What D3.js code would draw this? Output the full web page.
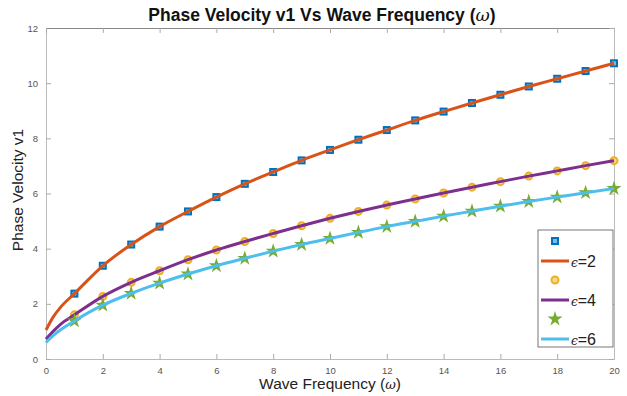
<!DOCTYPE html>
<html>
<head>
<meta charset="utf-8">
<script src="https://d3js.org/d3.v7.min.js"></script>
<style>
  body { margin: 0; background: #fff; }
  text { font-family: "Liberation Sans", Arial, sans-serif; }
</style>
</head>
<body>
<div id="chart"></div>
<script>
// marker points (integer frequencies)
const omega = [1,2,3,4,5,6,7,8,9,10,11,12,13,14,15,16,17,18,19,20];
const eps2 = [2.37,3.38,4.15,4.8,5.35,5.87,6.35,6.78,7.2,7.58,7.95,8.3,8.65,8.97,9.28,9.58,9.88,10.16,10.44,10.72];
const eps4 = [1.6,2.27,2.78,3.2,3.6,3.95,4.26,4.55,4.83,5.1,5.35,5.58,5.8,6.02,6.23,6.43,6.63,6.82,7.01,7.19];
const eps6 = [1.38,1.95,2.38,2.75,3.08,3.38,3.65,3.91,4.15,4.37,4.59,4.8,4.99,5.18,5.36,5.54,5.71,5.87,6.03,6.18];
// extra points near zero for the continuous curves
const omegaLow = [0, 0.25, 0.5];
const eps2Low = [1.05, 1.52, 1.86];
const eps4Low = [0.72, 1.0, 1.25];
const eps6Low = [0.6, 0.85, 1.05];

const xTicks = d3.range(0, 21, 2);
const yTicks = d3.range(0, 13, 2);

const W = 627, H = 396;
const margin = {top: 28, right: 13, bottom: 37, left: 46};
const width = W - margin.left - margin.right,
      height = H - margin.top - margin.bottom;

const svg = d3.select("#chart").append("svg")
    .attr("width", W).attr("height", H);
const g = svg.append("g")
    .attr("transform", `translate(${margin.left},${margin.top})`);

const x = d3.scaleLinear().domain([0, 20]).range([0, width]);
const y = d3.scaleLinear().domain([0, 12]).range([height, 0]);

// axes with inward ticks, MATLAB box style
function styleAxis(sel) {
  sel.select(".domain").attr("stroke", "#bbb");
  sel.selectAll(".tick line").attr("stroke", "#aaa");
  sel.selectAll(".tick text").attr("fill", "#555").attr("font-size", 9.5);
}
g.append("g").attr("transform", `translate(0,${height})`)
  .call(d3.axisBottom(x).tickValues(xTicks).tickSize(-5).tickPadding(8).tickSizeOuter(0))
  .call(styleAxis);
g.append("g")
  .call(d3.axisLeft(y).tickValues(yTicks).tickSize(-5).tickPadding(8).tickSizeOuter(0))
  .call(styleAxis);
g.append("g")
  .call(d3.axisTop(x).tickValues(xTicks).tickSize(-5).tickFormat("").tickSizeOuter(0))
  .call(styleAxis).select(".domain").attr("stroke", "#888");
g.append("g").attr("transform", `translate(${width},0)`)
  .call(d3.axisRight(y).tickValues(yTicks).tickSize(-5).tickFormat("").tickSizeOuter(0))
  .call(styleAxis);

const line = d3.line().x(d => x(d[0])).y(d => y(d[1])).curve(d3.curveMonotoneX);
const all = (low, vals) => omegaLow.map((w, i) => [w, low[i]]).concat(omega.map((w, i) => [w, vals[i]]));

const star = d3.symbol().type(d3.symbolStar).size(70);

const series = [
  {vals: eps2, low: eps2Low, color: "#D95319", mark: "square", mcolor: "#0072BD", label: "2"},
  {vals: eps4, low: eps4Low, color: "#7E2F8E", mark: "circle", mcolor: "#EDB120", label: "4"},
  {vals: eps6, low: eps6Low, color: "#4DBEEE", mark: "star", mcolor: "#77AC30", label: "6"}
];

function drawMarker(sel, s) {
  if (s.mark === "square") {
    sel.append("rect").attr("x", -3).attr("y", -3).attr("width", 6).attr("height", 6)
      .attr("fill", "#7fb8e0").attr("stroke", s.mcolor).attr("stroke-width", 2);
  } else if (s.mark === "circle") {
    sel.append("circle").attr("r", 3.5).attr("fill", "#f6d890")
      .attr("stroke", s.mcolor).attr("stroke-width", 2);
  } else {
    sel.append("path").attr("d", star).attr("fill", s.mcolor);
  }
}

series.forEach(s => {
  omega.forEach((w, i) => {
    const m = g.append("g").attr("transform", `translate(${x(w)},${y(s.vals[i])})`);
    drawMarker(m, s);
  });
  g.append("path").datum(all(s.low, s.vals))
    .attr("fill", "none").attr("stroke", s.color).attr("stroke-width", 3)
    .attr("d", line);
});

// legend
const lg = svg.append("g").attr("transform", "translate(538,230)");
lg.append("rect").attr("width", 75).attr("height", 117)
  .attr("fill", "#fff").attr("stroke", "#555").attr("stroke-width", 0.8);
series.forEach((s, i) => {
  const y0 = 11 + i * 39;
  drawMarker(lg.append("g").attr("transform", `translate(17,${y0})`), s);
  lg.append("line").attr("x1", 3).attr("x2", 31).attr("y1", y0 + 20).attr("y2", y0 + 20)
    .attr("stroke", s.color).attr("stroke-width", 3);
  const t = lg.append("text").attr("x", 33).attr("y", y0 + 26).attr("font-size", 16).attr("fill", "#222");
  t.append("tspan").attr("font-family", "DejaVu Serif").attr("font-style", "italic").attr("font-size", 12).text("ϵ");
  t.append("tspan").text("=" + s.label);
});

// titles
svg.append("text").attr("x", 322).attr("y", 21).attr("text-anchor", "middle")
  .attr("font-size", 17.5).attr("font-weight", "bold").attr("fill", "#111")
  .text("Phase Velocity v1 Vs Wave Frequency (")
  .append("tspan").attr("font-family", "DejaVu Serif").attr("font-style", "italic").attr("font-weight", "normal").text("ω")
  .select(function() { return this.parentNode; }).append("tspan").text(")");
svg.append("text").attr("x", 330).attr("y", 389).attr("text-anchor", "middle")
  .attr("font-size", 15.5).attr("fill", "#222")
  .text("Wave Frequency (")
  .append("tspan").attr("font-family", "DejaVu Serif").attr("font-style", "italic").attr("font-size", 13).text("ω")
  .select(function() { return this.parentNode; }).append("tspan").text(")");
svg.append("text").attr("transform", "translate(23,190) rotate(-90)").attr("text-anchor", "middle")
  .attr("font-size", 15.5).attr("fill", "#222").text("Phase Velocity v1");
</script>
</body>
</html>
